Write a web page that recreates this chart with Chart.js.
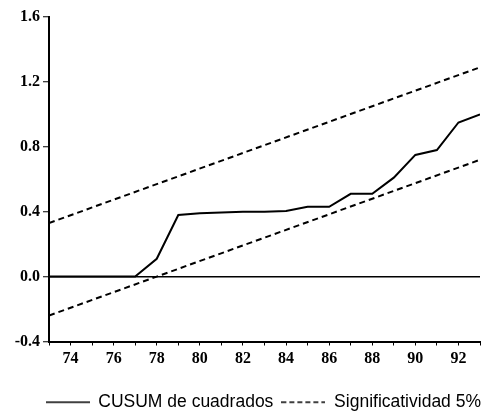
<!DOCTYPE html>
<html>
<head>
<meta charset="utf-8">
<script src="https://cdn.jsdelivr.net/npm/chart.js@4.4.1/dist/chart.umd.min.js"></script>
<style>
  html, body { margin: 0; padding: 0; background: #fff; overflow: hidden; }
  #wrap { width: 489px; height: 421px; position: relative; }
</style>
</head>
<body>
<div id="wrap"><canvas id="cusumChart"></canvas></div>
<script>
// years on the x axis (73 = 1973)
const years = [73, 74, 75, 76, 77, 78, 79, 80, 81, 82, 83, 84, 85, 86, 87, 88, 89, 90, 91, 92, 93];
// CUSUM of squares
const cusumValues = [0, 0, 0, 0, 0, 0.11, 0.38, 0.39, 0.395, 0.40, 0.40, 0.405, 0.43, 0.43, 0.51, 0.51, 0.61, 0.75, 0.78, 0.95, 1.0];
// 5% significance bands (straight lines, end points)
const bandYears = [73, 93];
const upperBand = [0.33, 1.29];
const lowerBand = [-0.24, 0.72];

const seriesLabels = ['CUSUM de cuadrados', 'Significatividad 5%'];

function toPoints(xs, ys) {
  return xs.map((x, i) => ({ x: x, y: ys[i] }));
}

// small line samples for the legend (point style images)
function legendSample(dash) {
  const c = document.createElement('canvas');
  c.width = 44;
  c.height = 4;
  const g = c.getContext('2d');
  g.strokeStyle = '#000';
  g.lineWidth = 1.5;
  g.setLineDash(dash);
  g.beginPath();
  g.moveTo(0, 2);
  g.lineTo(44, 2);
  g.stroke();
  return c;
}

const tickFont = { family: '"Liberation Serif", "Times New Roman", serif', size: 16, weight: 'bold' };

const ctx = document.getElementById('cusumChart').getContext('2d');
new Chart(ctx, {
  type: 'line',
  data: {
    datasets: [
      {
        label: seriesLabels[0],
        data: toPoints(years, cusumValues),
        borderColor: '#000',
        borderWidth: 2,
        pointRadius: 0,
        pointStyle: legendSample([]),
        tension: 0,
      },
      {
        label: seriesLabels[1],
        data: toPoints(bandYears, upperBand),
        borderColor: '#000',
        borderWidth: 2,
        borderDash: [6, 4],
        pointRadius: 0,
        pointStyle: legendSample([5, 3]),
      },
      {
        label: 'lower',
        data: toPoints(bandYears, lowerBand),
        borderColor: '#000',
        borderWidth: 2,
        borderDash: [6, 4],
        pointRadius: 0,
      },
    ],
  },
  options: {
    responsive: true,
    maintainAspectRatio: false,
    animation: false,
    devicePixelRatio: 1,
    layout: { padding: { left: 0, right: 0, top: 17, bottom: 0 } },
    plugins: {
      tooltip: { enabled: false },
      legend: {
        position: 'bottom',
        align: 'end',
        labels: {
          filter: (item) => item.datasetIndex < 2,
          usePointStyle: true,
          pointStyleWidth: 44,
          boxWidth: 44,
          boxHeight: 17,
          padding: 8,
          color: '#000',
          font: { family: '"Liberation Sans", Arial, sans-serif', size: 17.5 },
        },
      },
    },
    scales: {
      x: {
        type: 'linear',
        min: 73,
        max: 93,
        afterFit: (scale) => { scale.height = 44; },
        ticks: {
          stepSize: 1,
          autoSkip: false,
          maxRotation: 0,
          padding: 4,
          color: '#000',
          font: tickFont,
          callback: (v) => (v % 2 === 0 ? String(v) : ''),
        },
        grid: {
          drawOnChartArea: false,
          drawTicks: true,
          tickLength: 4,
          tickColor: '#000',
          tickWidth: 1,
        },
        border: { display: true, color: '#000', width: 2 },
      },
      y: {
        min: -0.4,
        max: 1.6,
        afterFit: (scale) => { scale.width = 49; },
        ticks: {
          stepSize: 0.4,
          padding: 3,
          color: '#000',
          font: tickFont,
          callback: (v) => Number(v).toFixed(1),
        },
        grid: {
          color: (c) => (c.tick && Math.abs(c.tick.value) < 1e-9 ? '#000' : 'rgba(0,0,0,0)'),
          lineWidth: 1.5,
          tickLength: 6,
          tickColor: '#000',
          tickWidth: 1,
        },
        border: { display: true, color: '#000', width: 2 },
      },
      // empty right-hand spacer so the plot ends where the reference does
      spacer: {
        type: 'linear',
        position: 'right',
        afterFit: (scale) => { scale.width = 9; },
        ticks: { display: false },
        grid: { display: false },
        border: { display: false },
      },
    },
  },
});
</script>
</body>
</html>
